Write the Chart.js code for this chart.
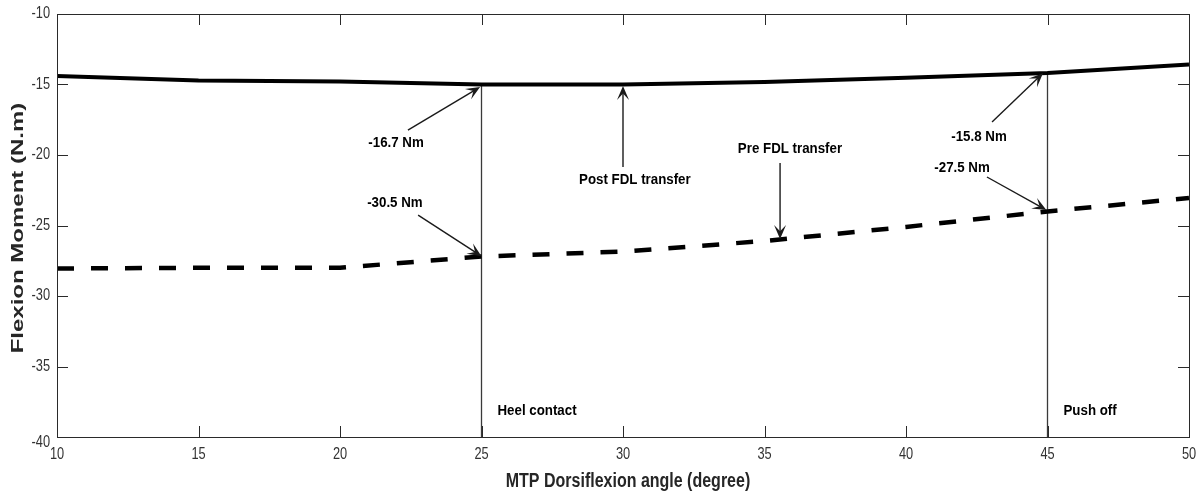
<!DOCTYPE html>
<html>
<head>
<meta charset="utf-8">
<script src="https://cdn.jsdelivr.net/npm/chart.js@4/dist/chart.umd.min.js"></script>
<style>
	html, body { margin: 0; padding: 0; background: #fff; }
	#wrap { width: 1203px; height: 494px; }
</style>
</head>
<body>
<div id="wrap"><canvas id="moment-chart" width="1203" height="494"></canvas></div>
<script>
const angles = [10, 15, 20, 25, 30, 35, 40, 45, 50];
const postTransfer = [-14.4, -14.72, -14.78, -15.0, -15.0, -14.82, -14.52, -14.18, -13.58];
const preTransfer = [-28.05, -28.0, -28.0, -27.2, -26.85, -26.1, -25.1, -24.0, -23.05];

const xTicks = [10, 15, 20, 25, 30, 35, 40, 45, 50];
const yTicks = [-10, -15, -20, -25, -30, -35, -40];

const eventAngles = [25, 45];
const eventLabels = ['Heel contact', 'Push off'];

// callouts: label at "at", arrow from "from" to "to" (data units)
const callouts = [
	{ text: '-16.7 Nm', at: [21.98, -19.15], from: [22.4, -18.23], to: [24.95, -15.18] },
	{ text: '-30.5 Nm', at: [21.94, -23.4], from: [22.76, -24.26], to: [25.0, -27.18] },
	{ text: 'Post FDL transfer', at: [30.42, -21.77], from: [30.0, -20.85], to: [30.0, -15.1] },
	{ text: 'Pre FDL transfer', at: [35.9, -19.57], from: [35.55, -20.57], to: [35.55, -25.95] },
	{ text: '-15.8 Nm', at: [42.58, -18.72], from: [43.04, -17.66], to: [44.84, -14.2] },
	{ text: '-27.5 Nm', at: [41.98, -20.92], from: [42.86, -21.56], to: [44.96, -23.9] },
];

const toPoints = (xs, ys) => xs.map((x, i) => ({ x, y: ys[i] }));

const eventLines = eventAngles.map((a) => {
	const top = postTransfer[angles.indexOf(a)];
	return {
		data: [{ x: a, y: top }, { x: a, y: -40 }],
		borderColor: '#3a3a3a',
		borderWidth: 1.3,
		pointRadius: 0,
	};
});

function drawText(ctx, text, x, y, o) {
	ctx.save();
	ctx.translate(x, y);
	if (o.rotate) ctx.rotate(o.rotate);
	ctx.scale(o.sx || 1, o.sy || 1);
	ctx.font = o.font;
	ctx.fillStyle = o.color || '#000';
	ctx.textAlign = o.align || 'center';
	ctx.textBaseline = 'middle';
	ctx.fillText(text, 0, 0);
	ctx.restore();
}

function arrow(ctx, x1, y1, x2, y2) {
	const ang = Math.atan2(y2 - y1, x2 - x1);
	const len = 14;
	const half = 6;
	ctx.save();
	ctx.strokeStyle = '#1a1a1a';
	ctx.fillStyle = '#1a1a1a';
	ctx.lineWidth = 1.4;
	ctx.beginPath();
	ctx.moveTo(x1, y1);
	ctx.lineTo(x2 - Math.cos(ang) * 7, y2 - Math.sin(ang) * 7);
	ctx.stroke();
	ctx.translate(x2, y2);
	ctx.rotate(ang);
	ctx.beginPath();
	ctx.moveTo(0, 0);
	ctx.lineTo(-len, -half);
	ctx.lineTo(-len * 0.55, 0);
	ctx.lineTo(-len, half);
	ctx.closePath();
	ctx.fill();
	ctx.restore();
}

const matlabAxes = {
	id: 'matlabAxes',
	afterDraw(chart) {
		const { ctx, chartArea: a, scales } = chart;
		const xs = scales.x;
		const ys = scales.y;
		const tick = 11;

		ctx.save();
		ctx.strokeStyle = '#2a2a2a';
		ctx.lineWidth = 1;
		ctx.strokeRect(a.left + 0.5, a.top + 0.5, a.right - a.left, a.bottom - a.top);

		ctx.beginPath();
		xTicks.forEach((v) => {
			const px = Math.round(xs.getPixelForValue(v)) + 0.5;
			ctx.moveTo(px, a.bottom);
			ctx.lineTo(px, a.bottom - tick);
			ctx.moveTo(px, a.top);
			ctx.lineTo(px, a.top + tick);
		});
		yTicks.forEach((v) => {
			const py = Math.round(ys.getPixelForValue(v)) + 0.5;
			ctx.moveTo(a.left, py);
			ctx.lineTo(a.left + tick, py);
			ctx.moveTo(a.right, py);
			ctx.lineTo(a.right - tick, py);
		});
		ctx.stroke();
		ctx.restore();

		const tickFont = '16px "Liberation Sans", Arial, sans-serif';
		xTicks.forEach((v) => {
			drawText(ctx, String(v), xs.getPixelForValue(v), a.bottom + 18, { font: tickFont, color: '#333', sx: 0.8 });
		});
		yTicks.forEach((v, i) => {
			const shift = i === yTicks.length - 1 ? 6 : 0;
			drawText(ctx, String(v), a.left - 7, ys.getPixelForValue(v) + shift, { font: tickFont, color: '#333', sx: 0.8, align: 'right' });
		});

		drawText(ctx, 'MTP Dorsiflexion angle (degree)', (a.left + a.right) / 2 + 5, 481, {
			font: 'bold 20px "Liberation Sans", Arial, sans-serif', color: '#262626', sx: 0.8,
		});
		drawText(ctx, 'Flexion Moment (N.m)', 18, 228, {
			font: 'bold 24px "Liberation Sans", Arial, sans-serif', color: '#262626', rotate: -Math.PI / 2, sy: 0.72,
		});

		const noteFont = 'bold 14px "Liberation Sans", Arial, sans-serif';
		callouts.forEach((c) => {
			arrow(ctx, xs.getPixelForValue(c.from[0]), ys.getPixelForValue(c.from[1]),
				xs.getPixelForValue(c.to[0]), ys.getPixelForValue(c.to[1]));
			drawText(ctx, c.text, xs.getPixelForValue(c.at[0]), ys.getPixelForValue(c.at[1]), { font: noteFont, sx: 0.95 });
		});

		eventAngles.forEach((v, i) => {
			drawText(ctx, eventLabels[i], xs.getPixelForValue(v) + 16, ys.getPixelForValue(-38.2), { font: noteFont, sx: 0.95, align: 'left' });
		});
	},
};

new Chart(document.getElementById('moment-chart'), {
	type: 'line',
	data: {
		datasets: [
			{
				label: 'Post FDL transfer',
				data: toPoints(angles, postTransfer),
				borderColor: '#000',
				borderWidth: 4,
				pointRadius: 0,
			},
			{
				label: 'Pre FDL transfer',
				data: toPoints(angles, preTransfer),
				borderColor: '#000',
				borderWidth: 4.5,
				borderDash: [17, 17],
				pointRadius: 0,
			},
			...eventLines,
		],
	},
	options: {
		responsive: false,
		animation: false,
		devicePixelRatio: 1,
		layout: { padding: { left: 57, top: 14, right: 14, bottom: 57 } },
		plugins: {
			legend: { display: false },
			tooltip: { enabled: false },
		},
		scales: {
			x: {
				type: 'linear',
				min: 10,
				max: 50,
				grid: { display: false, drawTicks: false },
				border: { display: false },
				ticks: { display: false },
				afterFit(s) { s.height = 0; },
			},
			y: {
				min: -40,
				max: -10,
				grid: { display: false, drawTicks: false },
				border: { display: false },
				ticks: { display: false },
				afterFit(s) { s.width = 0; },
			},
		},
	},
	plugins: [matlabAxes],
});
</script>
</body>
</html>
